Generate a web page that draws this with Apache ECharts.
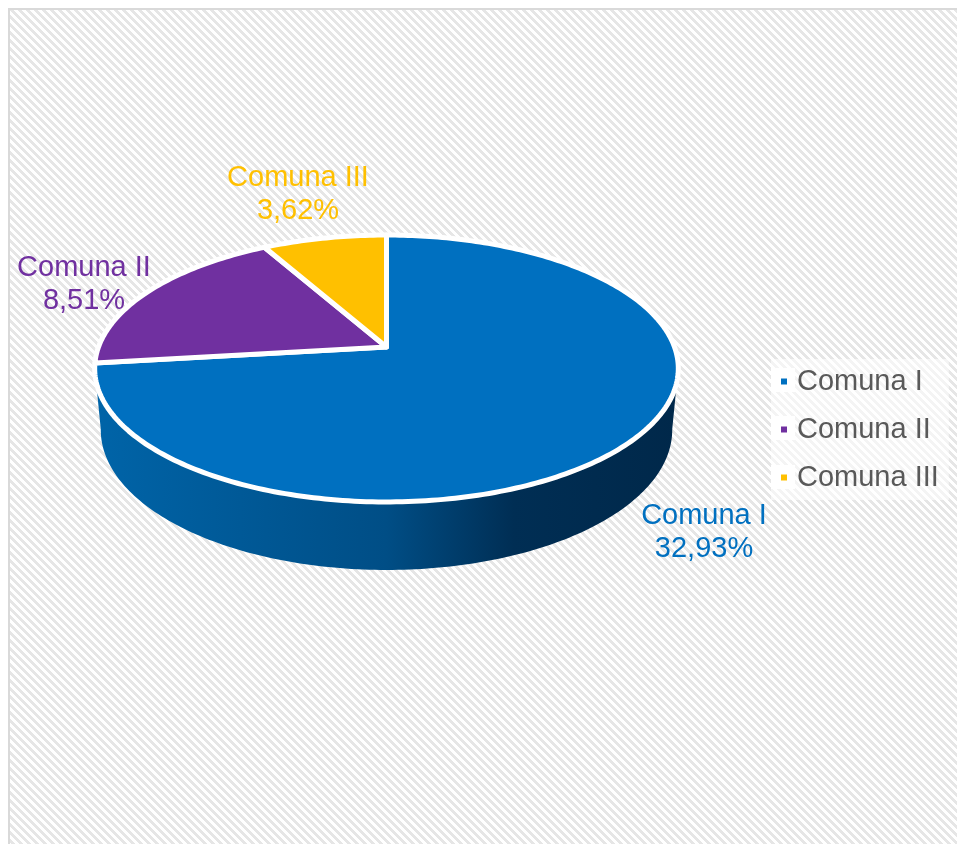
<!DOCTYPE html>
<html>
<head>
<meta charset="utf-8">
<style>html,body{margin:0;padding:0;background:#fff}#c{width:957px;height:844px}</style>
<script src="https://cdn.jsdelivr.net/npm/echarts@6/dist/echarts.min.js"></script>
</head>
<body>
<div id="c"></div>
<script>
// ---- data ----
var categories = ['Comuna I', 'Comuna II', 'Comuna III'];
var values = [32.93, 8.51, 3.62];
var valueLabels = ['32,93%', '8,51%', '3,62%'];
var colors = ['#0070C0', '#7030A0', '#FFC000'];

// ---- layout ----
var labelCentres = [[704, 532], [84, 284], [298, 194]];
var FONT = '29px "Liberation Sans", Arial, sans-serif';
var topPlane = {cx: 386.5, cy: 347, a: 130, b: 288, k: 0.161};
var basePlane = {cx: 386.5, cy: 407.4, a: 136.4, b: 282, k: 0.161};
var FRONT_FROM = 99, FRONT_TO = 261;

function project(plane, deg) {
  var t = deg * Math.PI / 180, x = Math.sin(t), y = -Math.cos(t), d = 1 - plane.k * y;
  return [plane.cx + plane.b * x / d, plane.cy + plane.a * y / d];
}
function arc(plane, from, to) {
  var pts = [], n = Math.max(2, Math.ceil(Math.abs(to - from)));
  for (var i = 0; i <= n; i++) pts.push(project(plane, from + (to - from) * i / n));
  return pts;
}
var total = values.reduce(function (s, v) { return s + v; }, 0);
var sweepStart = [];
values.reduce(function (s, v, i) { sweepStart[i] = s; return s + v; }, 0);

var wallGradient = {type: 'linear', global: true, x: 95, y: 0, x2: 677, y2: 0, colorStops: [
  {offset: 0, color: '#0064A8'}, {offset: 0.5, color: '#004E86'},
  {offset: 0.72, color: '#002E54'}, {offset: 1, color: '#00284A'}]};

function makeRender(i) {
  return function (params, api) {
    var v = api.value(0);
    var from = sweepStart[i] / total * 360, to = from + v / total * 360;
    var children = [];
    var wf = Math.max(from, FRONT_FROM), wt = Math.min(to, FRONT_TO);
    if (wt > wf) {
      children.push({type: 'polygon', shape: {points: arc(topPlane, wf, wt).concat(arc(basePlane, wt, wf)), smooth: 0},
        style: {fill: wallGradient, stroke: null}});
    }
    children.push({type: 'polygon',
      shape: {points: [[topPlane.cx, topPlane.cy]].concat(arc(topPlane, from, to))},
      style: {fill: colors[i], stroke: '#fff', lineWidth: 5, lineJoin: 'round'}});
    children.push({type: 'text', z2: 10, style: {
      text: categories[i] + '\n' + valueLabels[i], x: labelCentres[i][0], y: labelCentres[i][1],
      fill: colors[i], font: FONT, lineHeight: 33, align: 'center', verticalAlign: 'middle'}});
    return {type: 'group', children: children};
  };
}

// hatched background tile: light diagonal stripes
var tile = document.createElement('canvas');
tile.width = 8; tile.height = 8;
var tc = tile.getContext('2d');
tc.fillStyle = '#ffffff'; tc.fillRect(0, 0, 8, 8);
tc.fillStyle = '#e6e6e6';
for (var ty = 0; ty < 8; ty++) for (var tx = 0; tx < 8; tx++) {
  if (((tx - ty) % 8 + 8) % 8 < 4) tc.fillRect(tx, ty, 1, 1);
}

var chart = echarts.init(document.getElementById('c'), null, {renderer: 'canvas'});
chart.setOption({
  animation: false,
  backgroundColor: '#ffffff',
  graphic: [
    {type: 'rect', z: -10, silent: true, shape: {x: 9, y: 9, width: 960, height: 850},
      style: {fill: {image: tile, repeat: 'repeat'}, stroke: '#d9d9d9', lineWidth: 2}},
    {type: 'rect', z: -9, silent: true, shape: {x: 771, y: 368, width: 24, height: 24}, style: {fill: '#fff'}},
    {type: 'rect', z: -9, silent: true, shape: {x: 771, y: 416, width: 24, height: 24}, style: {fill: '#fff'}},
    {type: 'rect', z: -9, silent: true, shape: {x: 771, y: 465, width: 24, height: 24}, style: {fill: '#fff'}}
  ],
  legend: {
    orient: 'vertical', left: 771, top: 359, padding: [8, 10, 8, 10],
    backgroundColor: 'rgba(255,255,255,0.55)',
    itemWidth: 6, itemHeight: 6, itemGap: 19, icon: 'rect', selectedMode: false,
    data: categories,
    textStyle: {fontFamily: '"Liberation Sans", Arial, sans-serif', fontSize: 29, color: '#595959', padding: [0, 0, 0, 5]}
  },
  series: categories.map(function (name, i) {
    return {type: 'custom', name: name, coordinateSystem: 'none', silent: true,
      itemStyle: {color: colors[i]}, renderItem: makeRender(i), data: [[values[i]]]};
  })
});
</script>
</body>
</html>
